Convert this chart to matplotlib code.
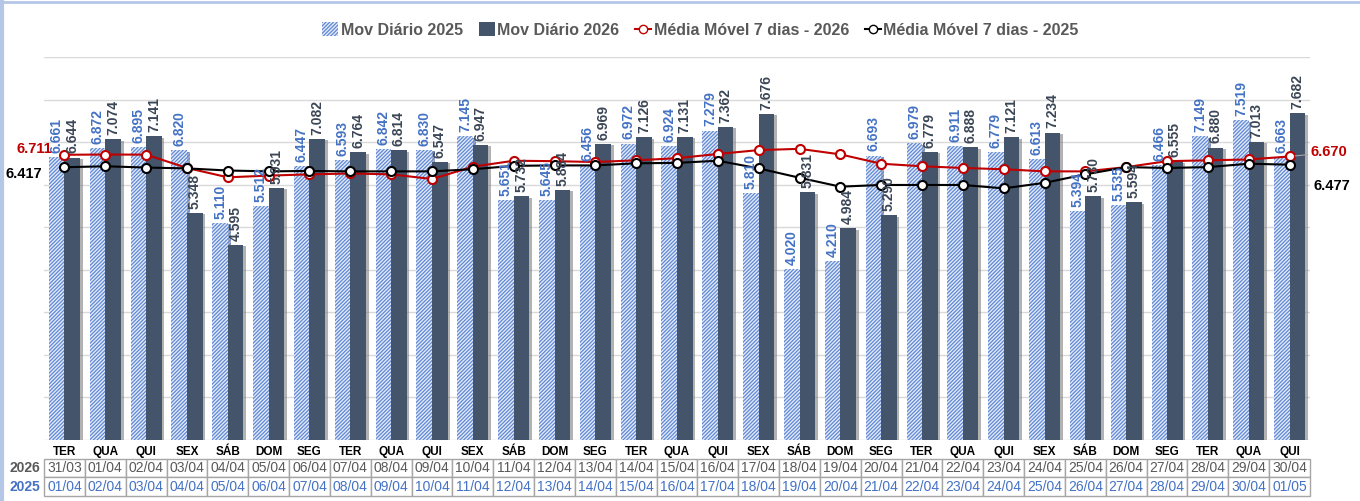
import matplotlib
matplotlib.use('Agg')
import matplotlib.pyplot as plt
import matplotlib.patheffects as pe
from matplotlib.lines import Line2D
from matplotlib.patches import Patch
import numpy as np

plt.rcParams['font.family'] = ['Liberation Sans', 'DejaVu Sans']
plt.rcParams['hatch.linewidth'] = 0.9

dias = ['TER', 'QUA', 'QUI', 'SEX', 'SÁB', 'DOM', 'SEG', 'TER', 'QUA', 'QUI', 'SEX',
        'SÁB', 'DOM', 'SEG', 'TER', 'QUA', 'QUI', 'SEX', 'SÁB', 'DOM', 'SEG', 'TER',
        'QUA', 'QUI', 'SEX', 'SÁB', 'DOM', 'SEG', 'TER', 'QUA', 'QUI']
datas_2026 = ['31/03', '01/04', '02/04', '03/04', '04/04', '05/04', '06/04', '07/04',
              '08/04', '09/04', '10/04', '11/04', '12/04', '13/04', '14/04', '15/04',
              '16/04', '17/04', '18/04', '19/04', '20/04', '21/04', '22/04', '23/04',
              '24/04', '25/04', '26/04', '27/04', '28/04', '29/04', '30/04']
datas_2025 = ['01/04', '02/04', '03/04', '04/04', '05/04', '06/04', '07/04', '08/04',
              '09/04', '10/04', '11/04', '12/04', '13/04', '14/04', '15/04', '16/04',
              '17/04', '18/04', '19/04', '20/04', '21/04', '22/04', '23/04', '24/04',
              '25/04', '26/04', '27/04', '28/04', '29/04', '30/04', '01/05']

# movimento diario (milhares)
mov_2025 = [6.661, 6.872, 6.895, 6.820, 5.110, 5.512, 6.447, 6.593, 6.842, 6.830, 7.145,
            5.651, 5.645, 6.456, 6.972, 6.924, 7.279, 5.810, 4.020, 4.210, 6.693, 6.979,
            6.911, 6.779, 6.613, 5.394, 5.535, 6.466, 7.149, 7.519, 6.663]
mov_2026 = [6.644, 7.074, 7.141, 5.348, 4.595, 5.931, 7.082, 6.764, 6.814, 6.547, 6.947,
            5.732, 5.884, 6.969, 7.126, 7.131, 7.362, 7.676, 5.831, 4.984, 5.290, 6.779,
            6.888, 7.121, 7.234, 5.730, 5.594, 6.555, 6.880, 7.013, 7.682]

# medias moveis 7 dias
mm7_2026 = [6.711, 6.716, 6.714, 6.40, 6.18, 6.22, 6.25, 6.27, 6.25, 6.14, 6.43, 6.57,
            6.56, 6.54, 6.58, 6.63, 6.73, 6.82, 6.85, 6.72, 6.50, 6.44, 6.40, 6.37, 6.32,
            6.32, 6.42, 6.56, 6.58, 6.60, 6.670]
mm7_2025 = [6.417, 6.44, 6.41, 6.39, 6.34, 6.32, 6.33, 6.32, 6.32, 6.32, 6.37, 6.45,
            6.46, 6.46, 6.51, 6.52, 6.57, 6.39, 6.17, 5.96, 6.00, 6.00, 6.00, 5.92, 6.05,
            6.25, 6.42, 6.40, 6.42, 6.50, 6.477]

azul = '#4472c4'
ardosia = '#44546a'
vermelho = '#c00000'
cinza_txt = '#595959'
hachura = '#5f88d6'

fig = plt.figure(figsize=(13.6, 5.01), dpi=100)
ax = fig.add_axes([0.0324, 0.1218, 0.9308, 0.7635])

x = np.arange(len(dias))
w = 0.38
sombra = [pe.SimplePatchShadow(offset=(2, -1), shadow_rgbFace='#808080', alpha=0.6), pe.Normal()]

b25 = ax.bar(x - w / 2, mov_2025, w, color='#e4ebf8', edgecolor=hachura, hatch='/////////',
             linewidth=0, zorder=2)
b26 = ax.bar(x + w / 2, mov_2026, w, color=ardosia, linewidth=0, zorder=2)
for b in list(b25) + list(b26):
    b.set_path_effects(sombra)

for xi, v in zip(x, mov_2025):
    ax.annotate('{:.3f}'.format(v), (xi - w / 2, v), xytext=(0, 3), textcoords='offset points',
                rotation=90, ha='center', va='bottom', fontsize=10, fontweight='bold',
                color=azul, zorder=5)
for xi, v in zip(x, mov_2026):
    ax.annotate('{:.3f}'.format(v), (xi + w / 2, v), xytext=(0, 3), textcoords='offset points',
                rotation=90, ha='center', va='bottom', fontsize=10, fontweight='bold',
                color='#3b4656', zorder=5)

ax.plot(x, mm7_2026, color=vermelho, lw=1.5, marker='o', ms=6.5, mfc='white', mec=vermelho,
        mew=1.5, zorder=4)
ax.plot(x, mm7_2025, color='black', lw=1.5, marker='o', ms=6.5, mfc='white', mec='black',
        mew=1.5, zorder=4)

# rotulos das pontas
ax.annotate('{:.3f}'.format(mm7_2026[0]), (x[0], mm7_2026[0]), xytext=(-12, 6),
            textcoords='offset pixels', ha='right', va='center', fontsize=10.5,
            fontweight='bold', color=vermelho, zorder=6)
ax.annotate('{:.3f}'.format(mm7_2025[0]), (x[0], mm7_2025[0]), xytext=(-22, -7),
            textcoords='offset pixels', ha='right', va='center', fontsize=10.5,
            fontweight='bold', color='black', zorder=6)
ax.annotate('{:.3f}'.format(mm7_2026[-1]), (x[-1], mm7_2026[-1]), xytext=(21, 4),
            textcoords='offset pixels', ha='left', va='center', fontsize=10.5,
            fontweight='bold', color=vermelho, zorder=6, annotation_clip=False,
            arrowprops=dict(arrowstyle='-', color='#a6a6a6', lw=0.8, shrinkA=0, shrinkB=4))
ax.annotate('{:.3f}'.format(mm7_2025[-1]), (x[-1], mm7_2025[-1]), xytext=(24, -21),
            textcoords='offset pixels', ha='left', va='center', fontsize=10.5,
            fontweight='bold', color='black', zorder=6, annotation_clip=False)

ax.set_xlim(-0.5, len(dias) - 0.5)
ax.set_ylim(0, 9)
ax.set_yticks(np.arange(0, 10, 1))
ax.set_yticklabels([])
ax.tick_params(axis='y', length=0)
ax.grid(axis='y', color='#d9d9d9', lw=1, zorder=0)
ax.set_axisbelow(True)
for s in ax.spines.values():
    s.set_visible(False)

ax.set_xticks(x)
ax.set_xticklabels(dias, fontsize=8.5, fontweight='bold', color='black')
ax.tick_params(axis='x', length=0, pad=4)

# tabela de datas
tab = ax.table(cellText=[datas_2026, datas_2025], cellLoc='center',
               bbox=[0, -0.1464, 1, 0.0967])
tab.auto_set_font_size(False)
tab.set_fontsize(10)
for (r, c), cel in tab.get_celld().items():
    cel.set_edgecolor('#a6a6a6')
    cel.set_linewidth(1.0)
    cel.get_text().set_color(cinza_txt if r == 0 else azul)
ax.text(-0.003, -0.0738, '2026', transform=ax.transAxes, ha='right', va='center',
        fontsize=10, fontweight='bold', color=cinza_txt)
ax.text(-0.003, -0.1222, '2025', transform=ax.transAxes, ha='right', va='center',
        fontsize=10, fontweight='bold', color=azul)

# legenda
handles = [Patch(facecolor='#e4ebf8', edgecolor=hachura, hatch='/////////', linewidth=0),
           Patch(facecolor=ardosia, linewidth=0),
           Line2D([], [], color=vermelho, lw=1.5, marker='o', ms=6, mfc='white', mec=vermelho),
           Line2D([], [], color='black', lw=1.5, marker='o', ms=6, mfc='white', mec='black')]
labels = ['Mov Diário 2025', 'Mov Diário 2026', 'Média Móvel 7 dias - 2026',
          'Média Móvel 7 dias - 2025']
leg = fig.legend(handles, labels, loc='center', bbox_to_anchor=(0.515, 0.94), ncol=4,
                 frameon=False, handlelength=1.0, handleheight=0.9, handletextpad=0.15,
                 columnspacing=1.0, prop={'size': 11.5, 'weight': 'bold'})
for t in leg.get_texts():
    t.set_color(cinza_txt)

# moldura azul clara
fig.add_artist(Line2D([0.0012, 0.0012], [0, 1], transform=fig.transFigure, color='#b4c7e7', lw=3))
fig.add_artist(Line2D([0, 1], [0.997, 0.997], transform=fig.transFigure, color='#b4c7e7', lw=2))

fig.savefig('out.png', dpi=100)
